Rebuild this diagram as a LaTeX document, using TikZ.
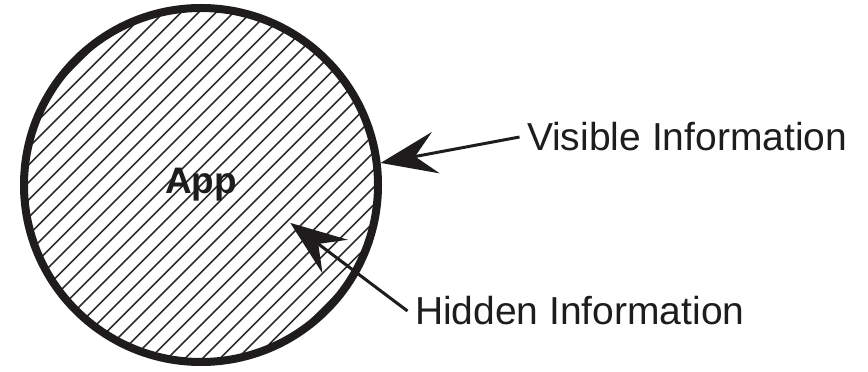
\documentclass[tikz,border=0pt]{standalone}
\usepackage{fontspec}
\setmainfont{Liberation Sans}
\usetikzlibrary{calc,positioning,arrows.meta}
\definecolor{inkblack}{RGB}{30,28,29}
\definecolor{hatchgrey}{RGB}{45,45,45}
\tikzset{
  appcircle/.style={circle,draw=inkblack,line width=0.16cm,minimum size=7.08cm,
    inner sep=0pt,font=\fontsize{21}{23}\selectfont\bfseries,text=inkblack},
  hatchline/.style={draw=hatchgrey,line width=0.9pt},
  pointer/.style={draw=inkblack,line width=1.7pt,
    -{Stealth[length=1.12cm,width=0.84cm,inset=0.42cm]}},
  infolabel/.style={anchor=west,inner xsep=0.15cm,inner ysep=0pt,outer sep=0pt,
    font=\fontsize{22.2}{26}\selectfont,text=inkblack},
}
\begin{document}
\begin{tikzpicture}
        \useasboundingbox (0,0) rectangle (17.36,7.42);
        % the app, hatched
        \node[appcircle,path picture={
            \foreach \k in {-24,...,24}{
              \draw[hatchline] ($(path picture bounding box.center)+(\k*0.35,0)+(-4,-4)$) -- ++(8,8);}
          }] (app) at (4.02,3.72) {App};
        \node[infolabel] (vis) at (10.39,4.68) {Visible Information};
        \node[infolabel] (hid) at (8.15,1.20) {Hidden Information};
        \coordinate (hidtip) at ($(app.center)+(-23:1.94)$);
        \draw[pointer] (vis.west) -- (app.7);
        \draw[pointer] (hid.west) -- (hidtip);
      \end{tikzpicture}
\end{document}
